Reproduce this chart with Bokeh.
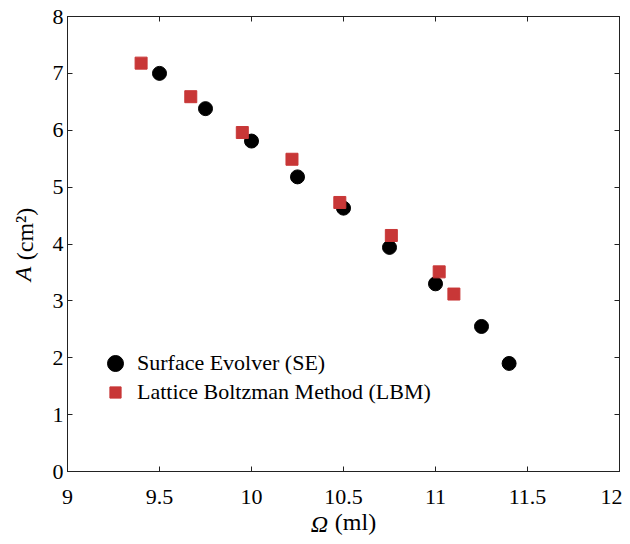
from bokeh.plotting import figure
from bokeh.models import LinearAxis, Legend, LegendItem, FixedTicker, Range1d, CustomJSTickFormatter
from bokeh.embed import file_html
from bokeh.resources import INLINE

# ---- data ----
se_x = [9.50, 9.75, 10.00, 10.25, 10.50, 10.75, 11.00, 11.25, 11.40]
se_y = [7.00, 6.38, 5.81, 5.18, 4.63, 3.94, 3.30, 2.55, 1.90]
lbm_x = [9.40, 9.67, 9.95, 10.22, 10.48, 10.76, 11.02, 11.10]
lbm_y = [7.18, 6.59, 5.96, 5.49, 4.73, 4.15, 3.51, 3.12]

x_ticks = [9, 9.5, 10, 10.5, 11, 11.5, 12]
x_tick_labels = ["9", "9.5", "10", "10.5", "11", "11.5", "12"]
y_ticks = [0, 1, 2, 3, 4, 5, 6, 7, 8]
y_tick_labels = ["0", "1", "2", "3", "4", "5", "6", "7", "8"]

se_label = "Surface Evolver (SE)"
lbm_label = "Lattice Boltzman Method (LBM)"

NB = "\u00a0"
# italic symbol part and regular unit part, overlaid so they read as one label
x_sym, x_unit = "Ω" + NB * 8, NB * 4 + "(ml)"
y_sym, y_unit = "A" + NB * 10, NB * 3 + "\u200a(cm²)"

FONT = "Liberation Serif"
RED = "#C83737"
LBL = "24px"

p = figure(frame_width=552, frame_height=455,
           x_range=Range1d(9, 12), y_range=Range1d(0, 8),
           output_backend="svg", toolbar_location=None,
           min_border_left=67, min_border_top=16, min_border_bottom=65, min_border_right=3,
           background_fill_color="white", border_fill_color="white")
p.grid.visible = False
p.outline_line_color = "#222222"
p.outline_line_width = 1

def style(ax, ticks, labels, show_labels):
    ax.ticker = FixedTicker(ticks=ticks)
    ax.minor_tick_line_color = None
    ax.major_tick_in = 5
    ax.major_tick_out = 0
    ax.major_tick_line_color = "#222222"
    ax.axis_line_color = "#222222"
    ax.major_label_text_font = FONT
    ax.major_label_text_color = "black"
    ax.major_label_text_font_size = "22px"
    if show_labels:
        ax.major_label_overrides = {t: l for t, l in zip(ticks, labels)}
    else:
        ax.formatter = CustomJSTickFormatter(code="return ''")
        ax.major_label_standoff = 0

def label_axis(ax, text, italic, standoff):
    ax.axis_label = text
    ax.axis_label_text_font = FONT
    ax.axis_label_text_font_size = LBL
    ax.axis_label_text_color = "black"
    ax.axis_label_text_font_style = "italic" if italic else "normal"
    ax.axis_label_standoff = standoff

def blank_axis():
    ax = LinearAxis(ticker=FixedTicker(ticks=[]))
    ax.axis_line_color = None
    ax.major_tick_line_color = None
    ax.minor_tick_line_color = None
    ax.formatter = CustomJSTickFormatter(code="return ''")
    ax.major_label_standoff = 0
    return ax

xa = p.xaxis[0]
ya = p.yaxis[0]
style(xa, x_ticks, x_tick_labels, True)
style(ya, y_ticks, y_tick_labels, True)
xa.major_label_standoff = 18
ya.major_label_standoff = 4
label_axis(xa, x_unit, False, 2)
label_axis(ya, y_unit, False, 12)

top = LinearAxis()
right = LinearAxis()
style(top, x_ticks, x_tick_labels, False)
style(right, y_ticks, y_tick_labels, False)
p.add_layout(top, "above")
p.add_layout(right, "right")

xb = blank_axis()
label_axis(xb, x_sym, True, -27)
p.add_layout(xb, "below")
yb = blank_axis()
label_axis(yb, y_sym, True, -27)
p.add_layout(yb, "left")

r_se = p.scatter(se_x, se_y, marker="circle", size=14, fill_color="black", line_color="black")
r_lbm = p.scatter(lbm_x, lbm_y, marker="square", size=12, fill_color=RED, line_color=RED)

common = dict(padding=0, margin=0, border_line_color=None, background_fill_alpha=0,
              label_text_font=FONT, label_text_font_size="22px", label_text_color="black")
leg1 = Legend(items=[LegendItem(label=se_label, renderers=[r_se])],
              location=(28, 88), glyph_width=40, glyph_height=40, label_height=40,
              label_standoff=2, **common)
leg2 = Legend(items=[LegendItem(label=lbm_label, renderers=[r_lbm])],
              location=(34, 65), glyph_width=28, glyph_height=28, label_height=28,
              label_standoff=8, **common)
p.add_layout(leg1, "center")
p.add_layout(leg2, "center")

open("out.html", "w").write(file_html(p, INLINE))
